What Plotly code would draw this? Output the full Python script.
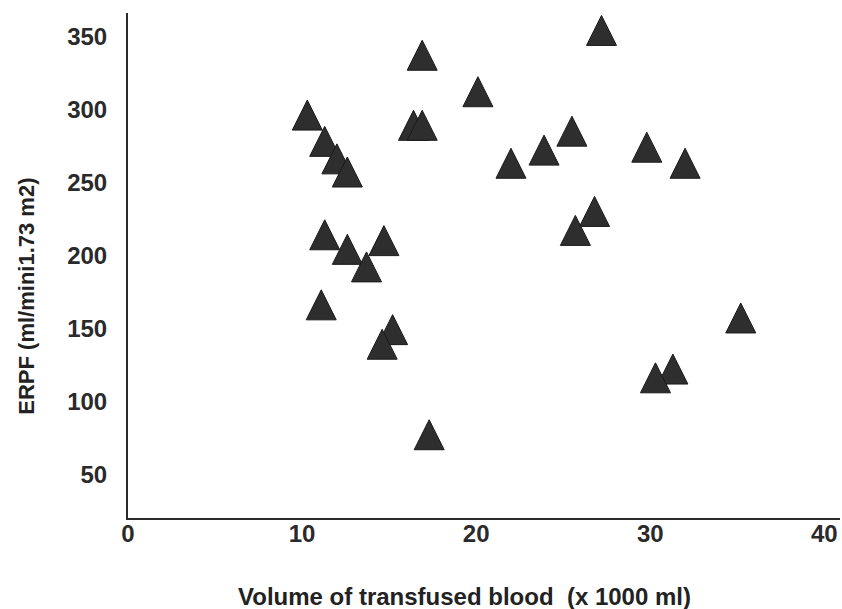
import plotly.graph_objects as go

# Volume of transfused blood (x 1000 ml)
volume = [10.3, 11.3, 12.0, 12.6, 11.3, 12.6, 14.7, 13.7, 11.1, 15.2, 14.6, 17.3,
          16.9, 16.4, 16.9, 20.1, 22.0, 23.9, 25.5, 27.2, 26.8, 25.7, 29.8, 32.0,
          35.2, 31.3, 30.3]
# ERPF (ml/min/1.73 m2)
erpf = [294, 276, 264, 255, 212, 202, 208, 190, 164, 147, 137, 75,
        335, 287, 287, 310, 261, 270, 283, 352, 228, 215, 272, 261,
        155, 120, 114]

x_ticks = [0, 10, 20, 30, 40]
y_ticks = [50, 100, 150, 200, 250, 300, 350]

fig = go.Figure()
fig.add_trace(go.Scatter(
    x=volume, y=erpf, mode="markers",
    marker=dict(symbol="arrow-down", angle=180, size=30, standoff=18, color="#2e2e2e",
                line=dict(color="#1a1a1a", width=1)),
    showlegend=False, cliponaxis=False,
))

font_family = "Liberation Sans, Arial, sans-serif"
fig.update_layout(
    width=842, height=609,
    margin=dict(l=128, r=2, t=13, b=91),
    paper_bgcolor="white", plot_bgcolor="white",
    font=dict(family=font_family, color="#2a2a2a"),
    xaxis=dict(range=[0, 40.9], tickvals=x_ticks, ticktext=[str(v) for v in x_ticks],
               showgrid=False, zeroline=False, showline=True, linecolor="#2a2a2a",
               linewidth=2, ticks="", ticklabelstandoff=-7, automargin=False,
               tickfont=dict(size=24, family=font_family, weight="bold", color="#2a2a2a")),
    yaxis=dict(range=[20, 366], tickvals=y_ticks, ticktext=[str(v) for v in y_ticks],
               showgrid=False, zeroline=False, showline=True, linecolor="#2a2a2a",
               linewidth=2, ticks="", ticklabelstandoff=14, automargin=False,
               tickfont=dict(size=24, family=font_family, weight="bold", color="#2a2a2a")),
    annotations=[
        dict(text="Volume of transfused blood  (x 1000 ml)", xref="paper", yref="paper",
             x=0.472, y=-0.156, xanchor="center", yanchor="middle", showarrow=False,
             font=dict(size=24, family=font_family, weight="bold", color="#222222")),
        dict(text="ERPF (ml/mini1.73 m2)", xref="paper", yref="paper",
             x=-0.142, y=0.44, xanchor="center", yanchor="middle", textangle=-90,
             showarrow=False,
             font=dict(size=22, family=font_family, weight="bold", color="#222222")),
    ],
)

fig.write_html(
    "out.html",
    config={"displayModeBar": False},
    post_script="document.body.style.margin='0';document.body.style.overflow='hidden';",
)
